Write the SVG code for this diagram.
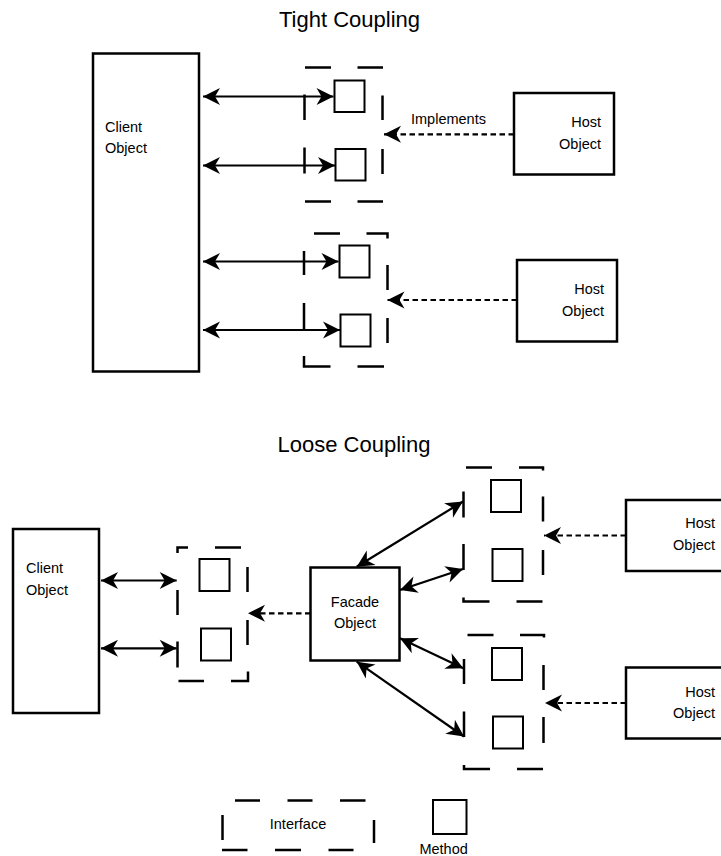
<svg xmlns="http://www.w3.org/2000/svg" width="721" height="856" viewBox="0 0 721 856">
<style>
.box{fill:#fff;stroke:#000;stroke-width:2.5}
.sq{fill:#fff;stroke:#000;stroke-width:2}
.iface{fill:none;stroke:#000;stroke-width:2.5;stroke-linecap:butt;stroke-linejoin:miter}
.link{fill:none;stroke:#000;stroke-width:2.2}
.dash{fill:none;stroke:#000;stroke-width:2.2;stroke-dasharray:5.5 3.5}
text{font-family:"Liberation Sans",Arial,Helvetica,sans-serif;fill:#000}
.lbl{font-size:14.5px}
.ttl{font-size:22px}
</style>
<defs>
<marker id="ah" markerUnits="userSpaceOnUse" markerWidth="22" markerHeight="22" viewBox="-19 -11 21 22" refX="0" refY="0" orient="auto-start-reverse">
<path d="M0,0 L-17,-8.5 L-12,0 L-17,8.5 Z" fill="#000"/>
</marker>
</defs>
<rect width="721" height="856" fill="#fff"/>

<text class="ttl" x="349.5" y="27.3" text-anchor="middle">Tight Coupling</text>
<text class="ttl" x="354" y="451.7" text-anchor="middle">Loose Coupling</text>

<g id="tight-client">
<rect class="box" x="93" y="53.5" width="106" height="318"/>
<text class="lbl" x="105" y="132">Client</text>
<text class="lbl" x="105" y="153">Object</text>
</g>

<g id="tight-interface-1">
<path class="iface" d="M305 67.5 H331 M357.5 67.5 H383 M382.5 95.5 V120 M382.5 149 V174 M305 201.5 H331 M357.5 201.5 H383 M304.5 94.5 V120 M304.5 147.5 V173.5"/>
<rect class="sq" x="334.5" y="80.5" width="30" height="31.5"/>
<rect class="sq" x="335.5" y="149" width="30" height="31.5"/>
</g>

<g id="tight-interface-2">
<path class="iface" d="M314 233.5 H340 M366.5 233.5 H387.5 V238.5 M387.5 265 V290 M387.5 318 V343 M304 356 V366.5 H330.5 M357.5 366.5 H384 M304 251 V275 M304 303 V330"/>
<rect class="sq" x="339.5" y="245.5" width="30" height="32"/>
<rect class="sq" x="340.5" y="314.5" width="30" height="32"/>
</g>

<g id="tight-host-1">
<rect class="box" x="514" y="93" width="100" height="81.5"/>
<text class="lbl" x="601" y="127.3" text-anchor="end">Host</text>
<text class="lbl" x="601" y="149.3" text-anchor="end">Object</text>
</g>

<g id="tight-host-2">
<rect class="box" x="517" y="260" width="100" height="81.5"/>
<text class="lbl" x="604" y="294" text-anchor="end">Host</text>
<text class="lbl" x="604" y="315.5" text-anchor="end">Object</text>
</g>

<g id="loose-client">
<rect class="box" x="13" y="529" width="86" height="184"/>
<text class="lbl" x="26" y="572.7">Client</text>
<text class="lbl" x="26" y="595">Object</text>
</g>

<g id="loose-interface-client">
<path class="iface" d="M177.5 553 V547.5 H188 M215 547.5 H241 M247.5 567 V592 M247.5 620 V645 M178.5 681 H204 M231 681 H248 V671.5 M177.5 590 V615 M177.5 641.5 V667.5"/>
<rect class="sq" x="199.5" y="559" width="30" height="32"/>
<rect class="sq" x="201" y="628.5" width="30" height="32"/>
</g>

<g id="facade">
<rect class="box" x="310.5" y="567.5" width="89" height="93"/>
<text class="lbl" x="355" y="606.7" text-anchor="middle">Facade</text>
<text class="lbl" x="355" y="628" text-anchor="middle">Object</text>
</g>

<g id="loose-interface-1">
<path class="iface" d="M466 467.5 H492 M519 467.5 H543 V470.5 M543 496.5 V521.5 M543 550 V575 M463.5 597.5 V601.5 H489.5 M516.5 601.5 H542.5 M463.5 491.5 V517.5 M463.5 544 V570"/>
<rect class="sq" x="491" y="480" width="30" height="32"/>
<rect class="sq" x="492.5" y="549" width="30" height="32"/>
</g>

<g id="loose-interface-2">
<path class="iface" d="M467.5 635 H493.5 M520 635 H544 V637.5 M543.5 665 V690 M543.5 717 V743 M464 659 V684 M464 711.5 V737 M464 765 V769 H490 M517 769 H543"/>
<rect class="sq" x="492" y="648" width="30" height="32"/>
<rect class="sq" x="493" y="716.5" width="30" height="32"/>
</g>

<g id="loose-host-1">
<rect class="box" x="626" y="500" width="110" height="71"/>
<text class="lbl" x="715" y="528" text-anchor="end">Host</text>
<text class="lbl" x="715" y="550" text-anchor="end">Object</text>
</g>

<g id="loose-host-2">
<rect class="box" x="626" y="667.5" width="110" height="71"/>
<text class="lbl" x="715" y="696.7" text-anchor="end">Host</text>
<text class="lbl" x="715" y="717.7" text-anchor="end">Object</text>
</g>

<g id="legend-interface">
<path class="iface" d="M235 800.5 H260 M287.5 800.5 H312.5 M340 800.5 H365.5 M222.5 815 V840 M222 850 H247.5 M275 850 H301 M328.5 850 H353.5 M374 820 V843"/>
<text class="lbl" x="298" y="829" text-anchor="middle">Interface</text>
</g>

<g id="legend-method">
<rect class="sq" x="433" y="800" width="33.5" height="34"/>
<text class="lbl" x="443.6" y="854" text-anchor="middle">Method</text>
</g>

<g id="connectors">
<line class="link" x1="203" y1="96.5" x2="333.5" y2="96.5" marker-start="url(#ah)" marker-end="url(#ah)"/>
<line class="link" x1="203" y1="165.5" x2="335" y2="165.5" marker-start="url(#ah)" marker-end="url(#ah)"/>
<line class="link" x1="203" y1="261.5" x2="338.5" y2="261.5" marker-start="url(#ah)" marker-end="url(#ah)"/>
<line class="link" x1="203" y1="330" x2="340" y2="330" marker-start="url(#ah)" marker-end="url(#ah)"/>
<line class="dash" x1="514" y1="134.3" x2="384" y2="134.3" marker-end="url(#ah)"/>
<text class="lbl" x="411" y="124">Implements</text>
<line class="dash" x1="517" y1="300" x2="387.5" y2="300" marker-end="url(#ah)"/>

<line class="link" x1="101" y1="580.5" x2="176.7" y2="580.5" marker-start="url(#ah)" marker-end="url(#ah)"/>
<line class="link" x1="101" y1="648.3" x2="176.7" y2="648.3" marker-start="url(#ah)" marker-end="url(#ah)"/>
<line class="dash" x1="310.5" y1="613.3" x2="248" y2="613.3" marker-end="url(#ah)"/>

<line class="link" x1="356.7" y1="566.7" x2="463" y2="501.5" marker-start="url(#ah)" marker-end="url(#ah)"/>
<line class="link" x1="400" y1="590" x2="463" y2="569" marker-start="url(#ah)" marker-end="url(#ah)"/>
<line class="link" x1="400" y1="638.3" x2="463.3" y2="668.3" marker-start="url(#ah)" marker-end="url(#ah)"/>
<line class="link" x1="356.7" y1="661.7" x2="464" y2="736.5" marker-start="url(#ah)" marker-end="url(#ah)"/>

<line class="dash" x1="626" y1="535.5" x2="544" y2="535.5" marker-end="url(#ah)"/>
<line class="dash" x1="626" y1="703" x2="545" y2="703" marker-end="url(#ah)"/>
</g>
</svg>
